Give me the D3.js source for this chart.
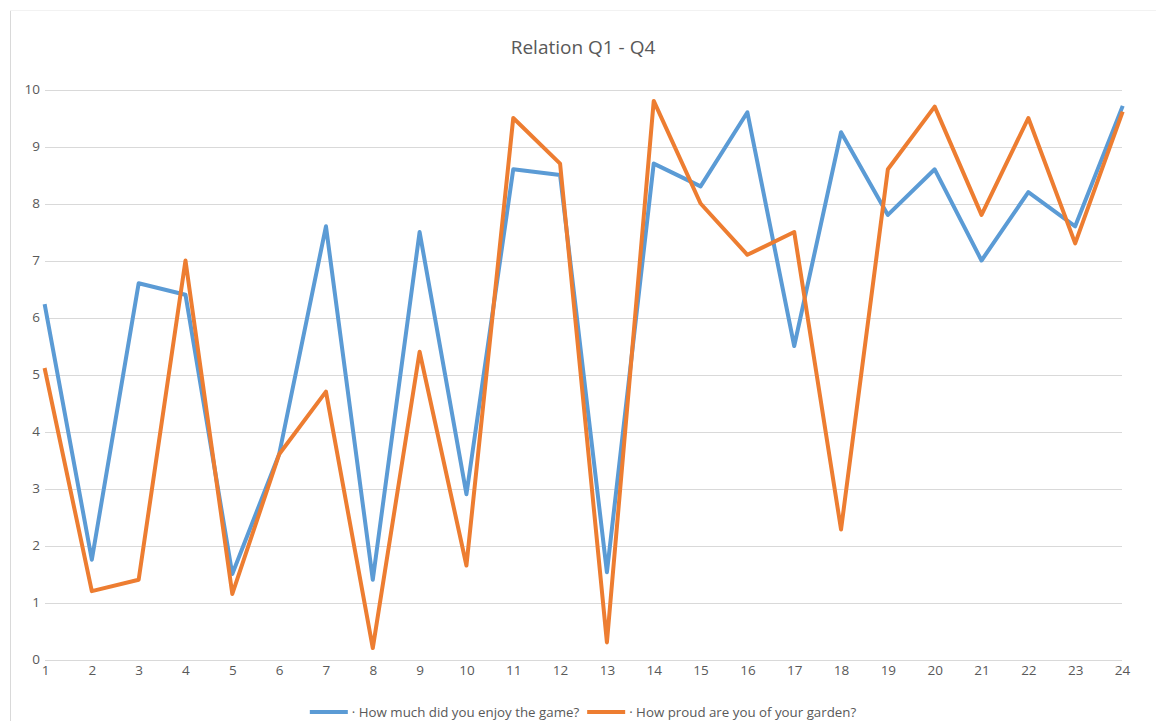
<!DOCTYPE html>
<html>
<head>
<meta charset="utf-8">
<title>Relation Q1 - Q4</title>
<script src="https://cdnjs.cloudflare.com/ajax/libs/d3/7.8.5/d3.min.js"></script>
<style>
    body { margin: 0; background: #fff; }
    text { font-family: "Open Sans", "Liberation Sans", sans-serif; fill: #595959; }
    .grid line { stroke: #d9d9d9; stroke-width: 1; shape-rendering: crispEdges; }
    .series { fill: none; stroke-width: 4; stroke-linejoin: round; stroke-linecap: square; }
</style>
</head>
<body>
<svg id="chart" width="1156" height="721"></svg>
<script>
    var categories = d3.range(1, 25);
    var enjoyGame = [6.2, 1.75, 6.6, 6.4, 1.5, 3.6, 7.6, 1.4, 7.5, 2.9, 8.6, 8.5,
                     1.53, 8.7, 8.3, 9.6, 5.5, 9.25, 7.8, 8.6, 7.0, 8.2, 7.6, 9.68];
    var proudGarden = [5.08, 1.2, 1.4, 7.0, 1.15, 3.6, 4.7, 0.2, 5.4, 1.65, 9.5, 8.7,
                       0.3, 9.8, 8.0, 7.1, 7.5, 2.28, 8.6, 9.7, 7.8, 9.5, 7.3, 9.58];
    var yTicks = d3.range(0, 11);
    var seriesNames = ["\u00b7 How much did you enjoy the game?", "\u00b7 How proud are you of your garden?"];
    var seriesColors = ["#5b9bd5", "#ed7d31"];

    var svg = d3.select("#chart");

    // chart border (only left/top edges are visible in the picture)
    svg.append("line").attr("x1", 10.5).attr("x2", 10.5).attr("y1", 10).attr("y2", 721)
        .attr("stroke", "#d9d9d9");
    svg.append("line").attr("x1", 10).attr("x2", 1156).attr("y1", 10.5).attr("y2", 10.5)
        .attr("stroke", "#f2f2f2");

    var x = d3.scaleLinear().domain([1, 24]).range([45, 1122]);
    var y = d3.scaleLinear().domain([0, 10]).range([659.5, 89.5]);

    // gridlines
    svg.append("g").attr("class", "grid")
        .selectAll("line").data(yTicks).enter().append("line")
        .attr("x1", x(1)).attr("x2", x(24))
        .attr("y1", function(d) { return Math.round(y(d)) + 0.5; })
        .attr("y2", function(d) { return Math.round(y(d)) + 0.5; });

    // y axis labels
    var yAxis = d3.axisLeft(y).tickValues(yTicks).tickSize(0).tickPadding(5);
    svg.append("g").attr("transform", "translate(" + x(1) + ",0)").call(yAxis)
        .call(function(g) { g.select(".domain").remove(); })
        .selectAll("text").style("font-size", "13.5px").attr("fill", "#595959")
        .style("font-family", "'Open Sans', sans-serif");

    // x axis labels
    var xAxis = d3.axisBottom(x).tickValues(categories).tickSize(0).tickPadding(6)
        .tickFormat(d3.format("d"));
    svg.append("g").attr("transform", "translate(0," + y(0) + ")").call(xAxis)
        .call(function(g) { g.select(".domain").remove(); })
        .selectAll("text").style("font-size", "13.5px").attr("fill", "#595959")
        .style("font-family", "'Open Sans', sans-serif");

    // lines
    var line = d3.line()
        .x(function(d, i) { return x(categories[i]); })
        .y(function(d) { return y(d); });

    [enjoyGame, proudGarden].forEach(function(s, i) {
        svg.append("path").datum(s)
            .attr("class", "series")
            .attr("stroke", seriesColors[i])
            .attr("d", line);
    });

    // title
    svg.append("text").attr("x", 583).attr("y", 54)
        .attr("text-anchor", "middle")
        .style("font-size", "19px")
        .text("Relation Q1 - Q4");

    // legend
    var legend = svg.append("g");
    var lx = 0;
    seriesNames.forEach(function(name, i) {
        var g = legend.append("g").attr("transform", "translate(" + lx + ",0)");
        g.append("line").attr("x1", 0).attr("x2", 38).attr("y1", 0).attr("y2", 0)
            .attr("stroke", seriesColors[i]).attr("stroke-width", 4);
        var t = g.append("text").attr("x", 42).attr("y", 4.5)
            .style("font-size", "13.3px").text(name);
        lx += 42 + t.node().getComputedTextLength() + 8;
    });
    legend.attr("transform", "translate(" + (583 - lx / 2 + 4) + ",712)");
</script>
</body>
</html>
